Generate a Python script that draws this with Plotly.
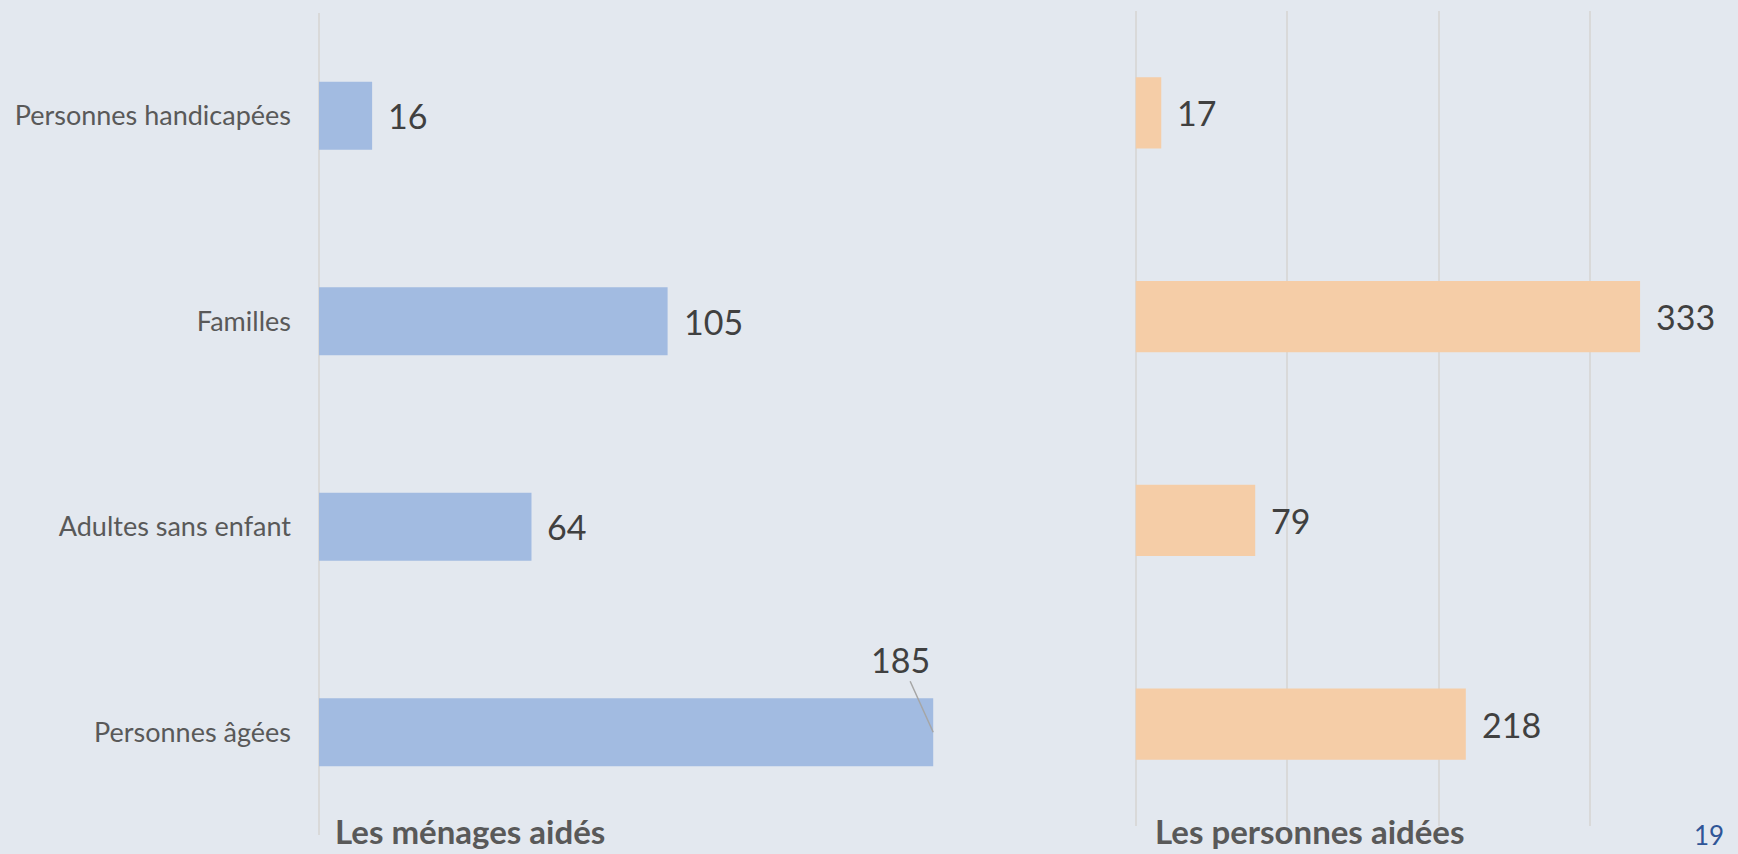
import plotly.graph_objects as go


CATEGORIES = ["Personnes âgées", "Adultes sans enfant", "Familles", "Personnes handicapées"]
MENAGES = [185, 64, 105, 16]
PERSONNES = [218, 79, 333, 17]

TITRE_MENAGES = "Les ménages aidés"
TITRE_PERSONNES = "Les personnes aidées"
PAGE = "19"

W, H = 1738, 854
FOND = "#E3E8EF"
BLEU = "#A2BBE1"
ORANGE = "#F5CDA7"
GRILLE = "#D9D9D9"
POLICE = "Lato"


def px_x(p):
    return p / W


def px_y(p):
    return (H - p) / H


def main():

    fig = go.Figure()

    fig.add_trace(
        go.Bar(
            x=MENAGES, y=CATEGORIES, orientation="h",
            marker_color=BLEU, marker_line_width=0,
            width=0.33, xaxis="x", yaxis="y",
            hoverinfo="x+y"),
    )

    fig.add_trace(
        go.Bar(
            x=PERSONNES, y=CATEGORIES, orientation="h",
            marker_color=ORANGE, marker_line_width=0,
            width=0.35, xaxis="x2", yaxis="y2",
            hoverinfo="x+y"),
    )

    # Etiquettes de valeurs
    for cat, val in zip(CATEGORIES, MENAGES):
        if val == max(MENAGES):
            fig.add_annotation(
                x=val, y=cat, xref="x", yref="y",
                text=str(val), showarrow=True,
                arrowhead=0, arrowwidth=1.5, arrowcolor="#A6A6A6",
                ax=-33, ay=-73, standoff=0,
                font=dict(family=POLICE, size=34, color="#404040"))
        else:
            fig.add_annotation(
                x=val, y=cat, xref="x", yref="y",
                text=str(val), showarrow=False,
                xanchor="left", xshift=14,
                font=dict(family=POLICE, size=34, color="#404040"))

    for cat, val in zip(CATEGORIES, PERSONNES):
        fig.add_annotation(
            x=val, y=cat, xref="x2", yref="y2",
            text=str(val), showarrow=False,
            xanchor="left", xshift=14,
            font=dict(family=POLICE, size=34, color="#404040"))

    # Titres en bas
    fig.add_annotation(
        x=px_x(333), y=px_y(831), xref="paper", yref="paper",
        xanchor="left", yanchor="middle", showarrow=False,
        text=f"<b>{TITRE_MENAGES}</b>",
        font=dict(family=POLICE, size=33, color="#595959"))

    fig.add_annotation(
        x=px_x(1153), y=px_y(831), xref="paper", yref="paper",
        xanchor="left", yanchor="middle", showarrow=False,
        text=f"<b>{TITRE_PERSONNES}</b>",
        font=dict(family=POLICE, size=33, color="#595959"))

    fig.add_annotation(
        x=px_x(1709), y=px_y(835), xref="paper", yref="paper",
        xanchor="center", yanchor="middle", showarrow=False,
        text=PAGE,
        font=dict(family=POLICE, size=26, color="#2F5597"))

    fig.update_layout(
        xaxis=dict(
            domain=[px_x(319), px_x(983)], range=[0, 200],
            showgrid=False, showticklabels=False, ticks="",
            zeroline=True, zerolinecolor=GRILLE, zerolinewidth=2,
            fixedrange=True),
        yaxis=dict(
            domain=[px_y(835), px_y(13)],
            categoryorder="array", categoryarray=CATEGORIES,
            showgrid=False, ticks="", ticklabelstandoff=27,
            tickfont=dict(family=POLICE, size=27, color="#595959"),
            fixedrange=True),
        xaxis2=dict(
            domain=[px_x(1135.5), px_x(1734)], range=[0, 395],
            anchor="y2", dtick=100, tick0=0,
            showgrid=True, gridcolor=GRILLE, gridwidth=2,
            showticklabels=False, ticks="",
            zeroline=True, zerolinecolor=GRILLE, zerolinewidth=2,
            fixedrange=True),
        yaxis2=dict(
            domain=[px_y(826), px_y(11)], anchor="x2",
            categoryorder="array", categoryarray=CATEGORIES,
            showgrid=False, showticklabels=False, ticks="",
            fixedrange=True),
        showlegend=False,
        width=W,
        height=H,
        margin=dict(l=0, r=0, t=0, b=0),
        plot_bgcolor=FOND,
        paper_bgcolor=FOND,
        font_family=POLICE,
    )

    # La page a une marge par défaut : on la retire
    fig.write_html(
        "out.html",
        config={"displayModeBar": False},
        post_script="document.body.style.margin='0';"
                    "document.body.style.overflow='hidden';")


if __name__ == "__main__":

    main()
